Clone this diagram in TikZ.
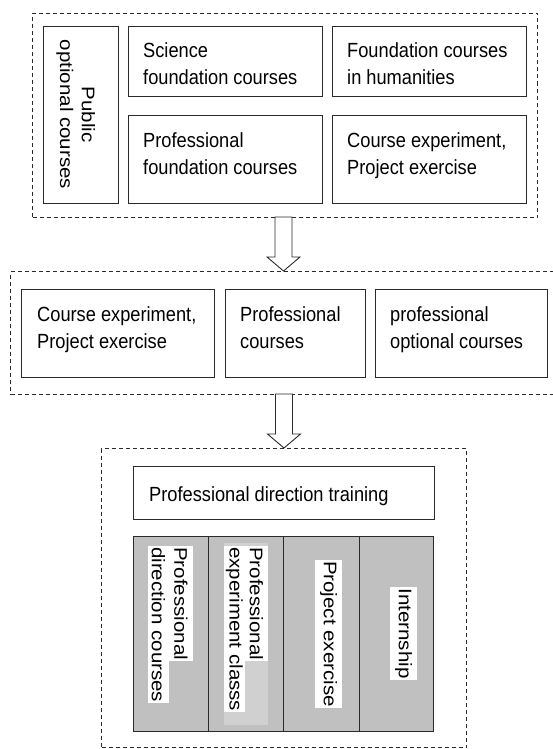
\documentclass[tikz,border=0pt]{standalone}
\usepackage{fontspec}
\setmainfont{Liberation Sans}
\usetikzlibrary{calc}
\newcommand{\hsq}[1]{\scalebox{0.89}[1]{#1}}
\newcommand{\vsq}[1]{\scalebox{1}[0.89]{#1}}
\newcommand{\twol}[2]{\hsq{\begin{tabular}[t]{@{}l@{}}#1\\#2\end{tabular}}}
\definecolor{colgray}{HTML}{C0C0C0}
\definecolor{lightgr}{HTML}{D0D0D0}
\definecolor{lineclr}{HTML}{2A2A2A}
\begin{document}
\begin{tikzpicture}[x=1pt,y=-1pt,
  dbox/.style={draw=lineclr, dash pattern=on 4pt off 3pt, line width=1pt, anchor=north west, inner sep=0pt},
  sbox/.style={draw=lineclr, line width=1.3pt, fill=white, anchor=north west, inner sep=0pt},
  gcol/.style={draw=lineclr, line width=1.3pt, fill=colgray, anchor=north west, inner sep=0pt, minimum height=195pt},
  txt/.style={inner sep=0pt, anchor=base west, font=\fontsize{20.5}{27}\selectfont, text=black},
  wtxt/.style={fill=white, inner xsep=1pt, inner ysep=0pt, rotate=-90, font=\fontsize{20.5}{24}\selectfont, text=black},
  blockarrow/.style={draw=lineclr, fill=white, line width=0.9pt, line join=miter}
]
\useasboundingbox (0,0) rectangle (553,749);

% ---------- top group ----------
\node[dbox, minimum width=505pt, minimum height=204pt] (top) at (32,13) {};
\node[sbox, minimum width=75pt, minimum height=177pt] (pub) at (43,26) {};
\node[sbox, minimum width=194pt, minimum height=70pt] (sci) at (128,26) {};
\node[sbox, minimum width=194pt, minimum height=70pt] (hum) at (332,26) {};
\node[sbox, minimum width=194pt, minimum height=88pt] (pfd) at (128,115) {};
\node[sbox, minimum width=194pt, minimum height=88pt] (cex) at (332,115) {};

\node[inner sep=0pt, rotate=-90, font=\fontsize{20.5}{24.5}\selectfont] (pubt) at (75.3,114.5)
  {\vsq{\begin{tabular}{@{}c@{}}Public\\optional courses\end{tabular}}};
\node[txt] (scit) at ($(sci.north west)+(15,32)$) {\twol{Science}{foundation courses}};
\node[txt] (humt) at ($(hum.north west)+(15,32)$) {\twol{Foundation courses}{in humanities}};
\node[txt] (pfdt) at ($(pfd.north west)+(15,32)$) {\twol{Professional}{foundation courses}};
\node[txt] (cext) at ($(cex.north west)+(15,32)$) {\twol{Course experiment,}{Project exercise}};

% ---------- middle group ----------
\node[dbox, minimum width=546pt, minimum height=123pt] (mid) at (10,271) {};
\node[sbox, minimum width=193pt, minimum height=88pt] (m1) at (21,289) {};
\node[sbox, minimum width=140pt, minimum height=88pt] (m2) at (225,289) {};
\node[sbox, minimum width=172pt, minimum height=88pt] (m3) at (375,289) {};
\node[txt] (m1t) at ($(m1.north west)+(16,32)$) {\twol{Course experiment,}{Project exercise}};
\node[txt] (m2t) at ($(m2.north west)+(15,32)$) {\twol{Professional}{courses}};
\node[txt] (m3t) at ($(m3.north west)+(15,32)$) {\twol{professional}{optional courses}};

% ---------- bottom group ----------
\node[dbox, minimum width=365pt, minimum height=299pt] (bot) at (101,448) {};
\node[sbox, minimum width=301pt, minimum height=53pt] (pdt) at (133,466) {};
\node[txt] (pdtt) at ($(pdt.north west)+(16,35)$) {\hsq{Professional direction training}};

\node[gcol, minimum width=75pt] (c1) at (133,536) {};
\node[gcol, minimum width=75pt] (c2) at (208,536) {};
\node[gcol, minimum width=76pt] (c3) at (283,536) {};
\node[gcol, minimum width=74pt] (c4) at (359,536) {};
\node[fill=lightgr, anchor=north west, inner sep=0pt, minimum width=44pt, minimum height=182pt] (c2bg) at (224,543) {};

\node[wtxt, anchor=north west, minimum height=24pt] (c1a) at (193,546) {\vsq{Professional}};
\node[wtxt, anchor=north west, minimum height=21pt] (c1b) at (169,546) {\vsq{direction courses}};
\node[wtxt, anchor=north west, minimum height=23pt] (c2a) at (268,546) {\vsq{Professional}};
\node[wtxt, anchor=north west, minimum height=21pt] (c2b) at (245,546) {\vsq{experiment classs}};
\node[wtxt, anchor=center, minimum height=27pt] (c3a) at (328.5,634) {\vsq{Project exercise}};
\node[wtxt, anchor=center, minimum height=27pt] (c4a) at (403.5,633.5) {\vsq{Internship}};

% ---------- block arrows ----------
\draw[blockarrow] ($(mid.north)+(-8.5,-54)$) -- ++(0,40) -- ++(-8,0) -- (mid.north)
  -- ++(16.5,-14) -- ++(-8,0) -- ++(0,-40) -- cycle;
\draw[blockarrow] ($(bot.north)+(-8.5,-54)$) -- ++(0,40) -- ++(-8,0) -- (bot.north)
  -- ++(16.5,-14) -- ++(-8,0) -- ++(0,-40) -- cycle;
\end{tikzpicture}
\end{document}
